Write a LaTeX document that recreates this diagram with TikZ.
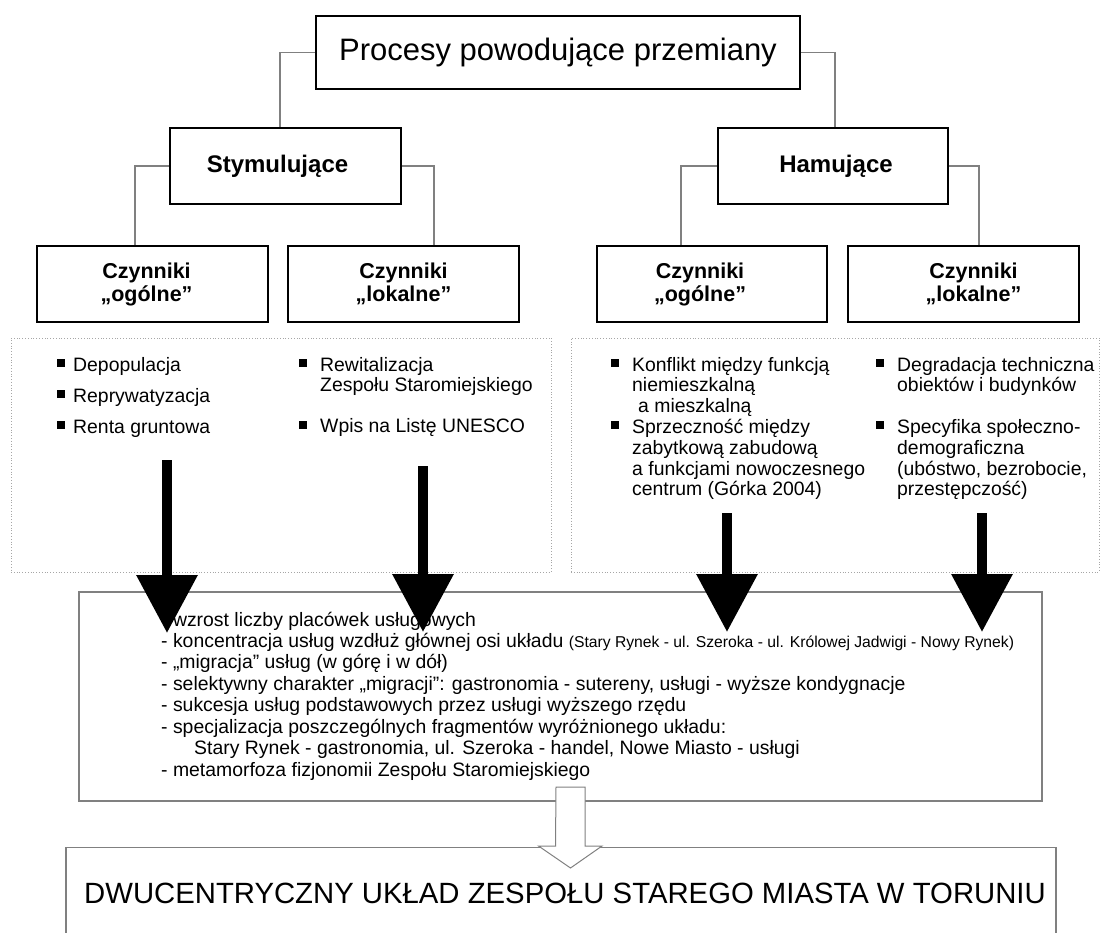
\documentclass[tikz,border=0pt]{standalone}
\usepackage{fontspec}
\setmainfont{Liberation Sans}
\usetikzlibrary{arrows.meta}
\newcommand{\bul}{\rule[4pt]{8pt}{8pt}}
\newcommand{\fs}[2]{\fontsize{#1}{#2}\selectfont}
\newcommand{\sh}[1]{\hspace*{#1}}
\begin{document}
\begin{tikzpicture}[x=1pt,y=-1pt,
  hbox/.style={draw=black,line width=1.6pt,minimum width=231pt,minimum height=76pt,inner sep=0pt,align=center,font=\fs{21.5}{23}\bfseries},
  conn/.style={draw=gray,line width=1.2pt},
  dbox/.style={draw=gray!70,dotted,line width=0.8pt,inner sep=0pt},
  txt/.style={inner sep=0pt,align=left,anchor=base west},
  blk/.style={line width=10pt,-{Triangle[width=59pt,length=58pt]}},
  gbox/.style={draw=gray,line width=1.3pt,inner sep=0pt},
  hollow/.style={fill=white,draw=gray,line width=1pt,line join=miter}
]
\useasboundingbox (0,0) rectangle (1100,933);

% hierarchy boxes
\node[hbox,minimum width=484pt,minimum height=73pt,font=\fs{31}{33}] (top) at (558,52.5) {Procesy powodujące przemiany};
\node[hbox,font=\fs{24}{26}\bfseries] (stym) at (285.5,166) {Stymulujące\sh{16pt}};
\node[hbox,font=\fs{24}{26}\bfseries,minimum width=230pt] (ham) at (833,166) {\sh{6pt}Hamujące};
\node[hbox] (c1) at (152.5,284) {Czynniki\sh{12pt}\\,,ogólne”\sh{12pt}};
\node[hbox] (c2) at (403.5,284) {Czynniki\\„lokalne”};
\node[hbox,minimum width=230pt] (c3) at (712,284) {Czynniki\sh{24pt}\\„ogólne”\sh{24pt}};
\node[hbox] (c4) at (963.5,284) {\sh{20pt}Czynniki\\\sh{20pt}„lokalne”};

% connectors
\draw[conn] (top.west) -- (280,0 |- top.west) -- (280,0 |- stym.north);
\draw[conn] (top.east) -- (835,0 |- top.east) -- (835,0 |- ham.north);
\draw[conn] (stym.west) -- (135,0 |- stym.west) -- (135,0 |- c1.north);
\draw[conn] (stym.east) -- (434,0 |- stym.east) -- (434,0 |- c2.north);
\draw[conn] (ham.west) -- (681,0 |- ham.west) -- (681,0 |- c3.north);
\draw[conn] (ham.east) -- (979,0 |- ham.east) -- (979,0 |- c4.north);

% dotted boxes
\node[dbox,minimum width=540pt,minimum height=234pt] (dl) at (281,455) {};
\node[dbox,minimum width=528pt,minimum height=234pt] (dr) at (835,455) {};

% factor lists (anchored at the baseline of their last line)
\node[txt,font=\fs{19.4}{31}] (tl1) at (57,433) {\bul\hspace{8pt}Depopulacja\\\bul\hspace{8pt}Reprywatyzacja\\\bul\hspace{8pt}Renta gruntowa};
\node[txt,font=\fs{19.4}{20.8}] (tl2) at (299,432.6) {\bul\hspace{13pt}Rewitalizacja\\\hspace*{21pt}Zespołu Staromiejskiego\\[20pt]\bul\hspace{13pt}Wpis na Listę UNESCO};
\node[txt,font=\fs{19.4}{20.8}] (tr1) at (611,495.8) {\bul\hspace{13pt}Konflikt między funkcją\\\hspace*{21pt}niemieszkalną\\\hspace*{27pt}a mieszkalną\\\bul\hspace{13pt}Sprzeczność między\\\hspace*{21pt}zabytkową zabudową\\\hspace*{21pt}a funkcjami nowoczesnego\\\hspace*{21pt}centrum (Górka 2004)};
\node[txt,font=\fs{19.4}{20.8}] (tr2) at (876,495.8) {\bul\hspace{13pt}Degradacja techniczna\\\hspace*{21pt}obiektów i budynków\\[20.8pt]\bul\hspace{13pt}Specyfika społeczno-\\\hspace*{21pt}demograficzna\\\hspace*{21pt}(ubóstwo, bezrobocie,\\\hspace*{21pt}przestępczość)};

% middle box
\node[gbox,minimum width=963pt,minimum height=209pt] (mid) at (560.5,696.5) {};
\node[txt,font=\fs{19.4}{21.45}] (midt) at (161,776.2) {- wzrost liczby placówek usługowych\\- koncentracja usług wzdłuż głównej osi układu {\fs{15.7}{16}(Stary Rynek - ul. Szeroka - ul. Królowej Jadwigi - Nowy Rynek)}\\- ,,migracja" usług (w górę i w dół)\\- selektywny charakter ,,migracji": gastronomia - sutereny, usługi - wyższe kondygnacje\\- sukcesja usług podstawowych przez usługi wyższego rzędu\\- specjalizacja poszczególnych fragmentów wyróżnionego układu:\\\hspace*{33pt}Stary Rynek - gastronomia, ul. Szeroka - handel, Nowe Miasto - usługi\\- metamorfoza fizjonomii Zespołu Staromiejskiego};

% bottom box
\node[gbox,minimum width=990pt,minimum height=120pt,anchor=north] (bot) at (561,847) {};
\node[txt,font=\fs{29.3}{30}] (bott) at (84,903) {DWUCENTRYCZNY UKŁAD ZESPOŁU STAREGO MIASTA W TORUNIU};

% black arrows
\coordinate (a1s) at (167,460); \coordinate (a1e) at (167,633);
\coordinate (a2s) at (423,466); \coordinate (a2e) at (423,632);
\coordinate (a3s) at (727,513); \coordinate (a3e) at (727,632);
\coordinate (a4s) at (982,513); \coordinate (a4e) at (982,632);
\draw[blk] (a1s) -- (a1e);
\draw[blk] (a2s) -- (a2e);
\draw[blk] (a3s) -- (a3e);
\draw[blk] (a4s) -- (a4e);

% hollow arrow
\coordinate (hs) at (570.5,787);
\draw[hollow] (hs) ++(-14.5,0) -- ++(29,0) -- ++(0,59) -- ++(17,0) -- ++(-31.5,22) -- ++(-32,-22) -- ++(17,0) -- cycle;
\end{tikzpicture}
\end{document}
